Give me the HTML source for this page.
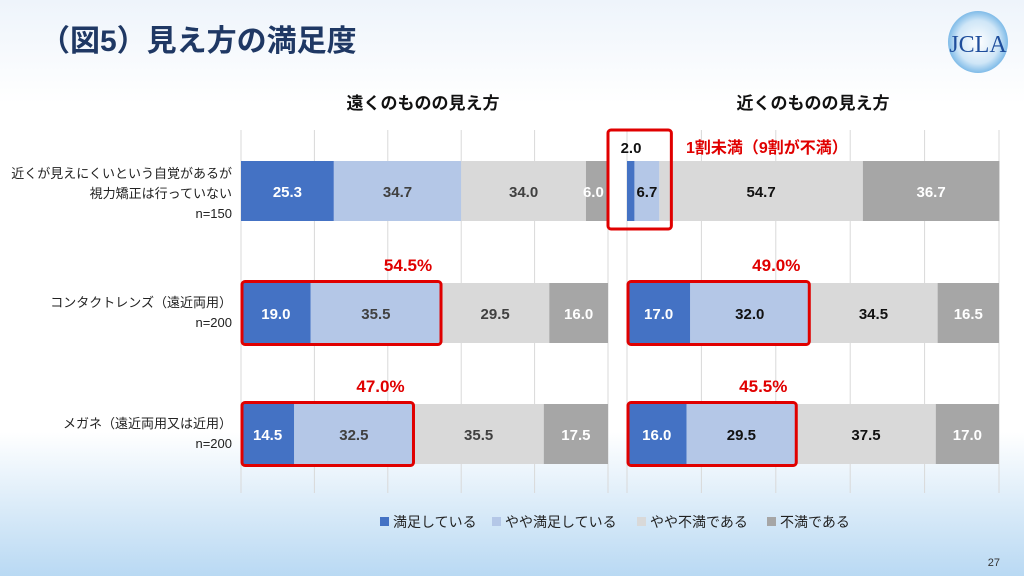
<!DOCTYPE html>
<html><head><meta charset="utf-8"><style>
body{margin:0;width:1024px;height:576px;overflow:hidden;font-family:"Liberation Sans","Noto Sans CJK JP",sans-serif;}
svg{display:block}
</style></head><body>
<svg id="c" width="1024" height="576" xmlns="http://www.w3.org/2000/svg">
<defs>
<linearGradient id="bg" x1="0" y1="0" x2="0" y2="1">
<stop offset="0" stop-color="#eef4fb"/><stop offset="0.18" stop-color="#ffffff"/><stop offset="0.75" stop-color="#ffffff"/><stop offset="1" stop-color="#b9d9f3"/>
</linearGradient>
<radialGradient id="logo" cx="0.5" cy="0.5" r="0.5"><stop offset="0" stop-color="#ffffff"/><stop offset="0.7" stop-color="#cfe6f7"/><stop offset="1" stop-color="#7fbbe8"/></radialGradient>
<clipPath id="leftclip"><rect x="241" y="100" width="367" height="400"/></clipPath>
</defs>
<rect width="1024" height="576" fill="url(#bg)"/>
<text x="40" y="51" font-size="30" font-weight="bold" fill="#1f3864">（図5）見え方の満足度</text>
<g>
<ellipse cx="978" cy="42" rx="30" ry="31" fill="url(#logo)"/>
<text x="978" y="52" font-size="24" font-family="Liberation Serif,serif" fill="#1f4e9c" text-anchor="middle">JCLA</text>
</g>
<text x="423" y="109" font-size="17" font-weight="bold" fill="#111" text-anchor="middle">遠くのものの見え方</text>
<text x="813" y="109" font-size="17" font-weight="bold" fill="#111" text-anchor="middle">近くのものの見え方</text>
<g id="grid"></g><g id="bars"></g><g id="ann"></g>
<g font-size="13" fill="#222" text-anchor="end">
<text x="232" y="178">近くが見えにくいという自覚があるが</text>
<text x="232" y="198">視力矯正は行っていない</text>
<text x="232" y="218">n=150</text>
<text x="232" y="307">コンタクトレンズ（遠近両用）</text>
<text x="232" y="327">n=200</text>
<text x="232" y="428">メガネ（遠近両用又は近用）</text>
<text x="232" y="448">n=200</text>
</g>
<g font-size="14" fill="#222">
<rect x="380" y="517" width="9" height="9" fill="#4472c4"/><text x="393" y="527">満足している</text>
<rect x="492" y="517" width="9" height="9" fill="#b4c7e7"/><text x="505" y="527">やや満足している</text>
<rect x="637" y="517" width="9" height="9" fill="#d9d9d9"/><text x="650" y="527">やや不満である</text>
<rect x="767" y="517" width="9" height="9" fill="#a6a6a6"/><text x="780" y="527">不満である</text>
</g>
<text x="1000" y="566" font-size="11" fill="#333" text-anchor="end">27</text>
</svg>
<script>
const categories=["近くが見えにくいという自覚があるが視力矯正は行っていない","コンタクトレンズ（遠近両用）","メガネ（遠近両用又は近用）"];
const seriesNames=["満足している","やや満足している","やや不満である","不満である"];
const farSatisfied=[25.3,19.0,14.5];
const farSomewhatSatisfied=[34.7,35.5,32.5];
const farSomewhatDissatisfied=[34.0,29.5,35.5];
const farDissatisfied=[6.0,16.0,17.5];
const nearSatisfied=[2.0,17.0,16.0];
const nearSomewhatSatisfied=[6.7,32.0,29.5];
const nearSomewhatDissatisfied=[54.7,34.5,37.5];
const nearDissatisfied=[36.7,16.5,17.0];
const farTotals=[null,"54.5%","47.0%"];
const nearTotals=[null,"49.0%","45.5%"];
const gridTicks=[0,20,40,60,80,100];

const NS="http://www.w3.org/2000/svg";
function mk(tag,attrs,parent){const e=document.createElementNS(NS,tag);for(const k in attrs)e.setAttribute(k,attrs[k]);parent.appendChild(e);return e;}
function xs2(v){return 627+v/100*372;}
const panels=[
 {x0:241,w:367,series:[farSatisfied,farSomewhatSatisfied,farSomewhatDissatisfied,farDissatisfied],totals:farTotals,lc:"#404040",name:"far"},
 {x0:627,w:372,series:[nearSatisfied,nearSomewhatSatisfied,nearSomewhatDissatisfied,nearDissatisfied],totals:nearTotals,lc:"#111",name:"near"}
];
const colors=["#4472c4","#b4c7e7","#d9d9d9","#a6a6a6"];
const rowTop=[161,283,404], barH=60;
const G=document.getElementById('grid'),B=document.getElementById('bars'),A=document.getElementById('ann');
panels.forEach(p=>{
 const xs=v=>p.x0+v/100*p.w;
 gridTicks.forEach(t=>{
  const l=mk('line',{x1:xs(t),x2:xs(t),y1:130,y2:493,stroke:"#d9d9d9","stroke-width":1},G);
  
  
 });
 categories.forEach((c,i)=>{
  let acc=0;
  p.series.forEach((s,j)=>{
   const v=s[i];
   const r=mk('rect',{x:xs(acc),y:rowTop[i],width:xs(acc+v)-xs(acc),height:barH,fill:colors[j]},B);
   
   
   const cx=(xs(acc)+xs(acc+v))/2;
   let fill=(j==0||j==3)?"#fff":p.lc;
   let tx=cx,ty=rowTop[i]+barH/2+6,anchor="middle";
   if(v<5&&j==0){ty=rowTop[i]-8;tx=xs(acc)+4;fill="#111";}
   if(v<8&&j==1&&p.name=="near"){fill="#111";}
   const t=mk('text',{x:tx,y:ty,"font-size":15,"font-weight":"bold",fill:fill,"text-anchor":anchor},B);
   t.textContent=v.toFixed(1);
   
   
   if(p.name=="far"&&j==3&&v<8){t.setAttribute('x',xs(acc)-3);t.setAttribute('text-anchor','start');t.setAttribute('clip-path','url(#leftclip)');}
   acc+=v;
  });
  if(p.totals[i]){
   const sum=p.series[0][i]+p.series[1][i];
   const bx=mk('rect',{x:p.x0+1,y:rowTop[i]-1.5,width:xs(sum)-p.x0-1,height:barH+3,rx:3,fill:"none",stroke:"#e00000","stroke-width":3},A);
   
   
   const t=mk('text',{x:xs(sum)-33,y:rowTop[i]-12,"font-size":17,"font-weight":"bold",fill:"#e00000","text-anchor":"middle"},A);
   t.textContent=p.totals[i];
   
   
  }
 });
});
const nb=mk('rect',{x:608,y:130,width:xs2(nearSatisfied[0]+nearSomewhatSatisfied[0])-608+12,height:99,rx:3,fill:"none",stroke:"#e00000","stroke-width":3},A);


const nt=mk('text',{x:686,y:153,"font-size":16,"font-weight":"bold",fill:"#e00000"},A);
nt.textContent="1割未満（9割が不満）";


</script>
</body></html>
